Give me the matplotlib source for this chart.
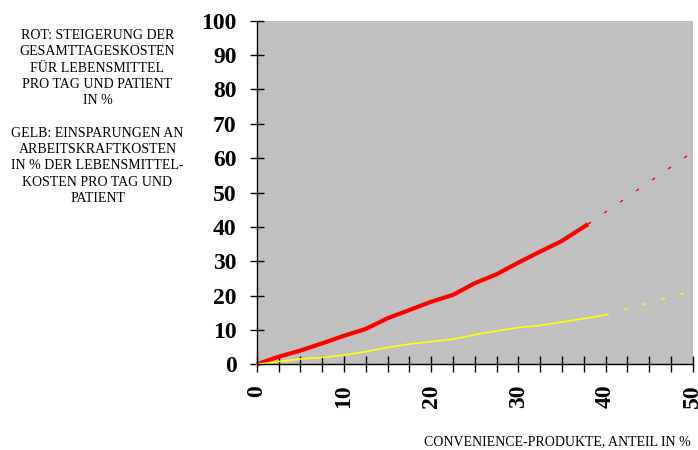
import matplotlib
matplotlib.use("Agg")
import matplotlib.pyplot as plt
from matplotlib.ticker import MultipleLocator

# data
red_x = [0, 2.5, 5, 7.5, 10, 12.5, 15, 17.5, 20, 22.5, 25, 27.5, 30, 32.5, 35, 38]
red_y = [0, 2.2, 4.0, 6.1, 8.3, 10.3, 13.4, 15.8, 18.2, 20.2, 23.6, 26.2, 29.6, 32.8, 35.9, 40.8]
red_proj_x = [38, 50]
red_proj_y = [40.8, 61.8]

yellow_x = [0, 2.5, 5, 7.5, 10, 12.5, 15, 17.5, 20, 22.5, 25, 27.5, 30, 32.5, 35, 37.5, 40]
yellow_y = [0, 0.8, 1.55, 2.0, 2.7, 3.7, 4.9, 5.9, 6.6, 7.3, 8.6, 9.7, 10.7, 11.3, 12.3, 13.3, 14.4]
yellow_proj_x = [40, 50]
yellow_proj_y = [14.4, 21.4]

legend_text = ("ROT: STEIGERUNG DER\nGESAMTTAGESKOSTEN\nFÜR LEBENSMITTEL\n"
               "PRO TAG UND PATIENT\nIN %\n\n"
               "GELB: EINSPARUNGEN AN\nARBEITSKRAFTKOSTEN\nIN % DER LEBENSMITTEL-\n"
               "KOSTEN PRO TAG UND\nPATIENT")
x_label = "CONVENIENCE-PRODUKTE, ANTEIL IN %"

plt.rcParams['font.family'] = ['Liberation Serif', 'DejaVu Serif']

fig = plt.figure(figsize=(6.98, 4.5), dpi=100)
ax = fig.add_axes([0.3678, 0.1904, 0.6246, 0.7636])
ax.set_facecolor("#C0C0C0")

ax.plot(red_x, red_y, color="#FF0000", lw=3, solid_capstyle="butt",
        solid_joinstyle="round", clip_on=False)
ax.plot(red_proj_x, red_proj_y, color="#FF0000", lw=1, dashes=(2.5, 11.5), clip_on=False)
ax.plot(yellow_x, yellow_y, color="#FFFF00", lw=1.2, clip_on=False)
ax.plot(yellow_proj_x, yellow_proj_y, color="#FFFF00", lw=1, dashes=(2.5, 11.5), clip_on=False)

ax.set_xlim(0, 50)
ax.set_ylim(0, 100)

ax.xaxis.set_major_locator(MultipleLocator(10))
ax.xaxis.set_minor_locator(MultipleLocator(2.5))
ax.yaxis.set_major_locator(MultipleLocator(10))

ax.tick_params(axis="x", which="both", direction="inout", length=11.5, width=1, color="black")
ax.tick_params(axis="x", which="major", pad=9, labelsize=17, labelrotation=90)
ax.tick_params(axis="y", which="major", direction="inout", length=10, width=1, pad=9.4, labelsize=17)
for lab in ax.get_xticklabels() + ax.get_yticklabels():
    lab.set_fontweight("bold")

for side in ["top", "right"]:
    ax.spines[side].set_visible(False)
for side in ["left", "bottom"]:
    ax.spines[side].set_linewidth(1)
    ax.spines[side].set_color("black")

fig.text(97.5 / 698, 1 - 29 / 450, legend_text, ha="center", va="top",
         fontsize=10, linespacing=1.33)
fig.text(557 / 698, 1 - 441.7 / 450, x_label, ha="center", va="center", fontsize=10)

fig.savefig("out.png", dpi=100)
